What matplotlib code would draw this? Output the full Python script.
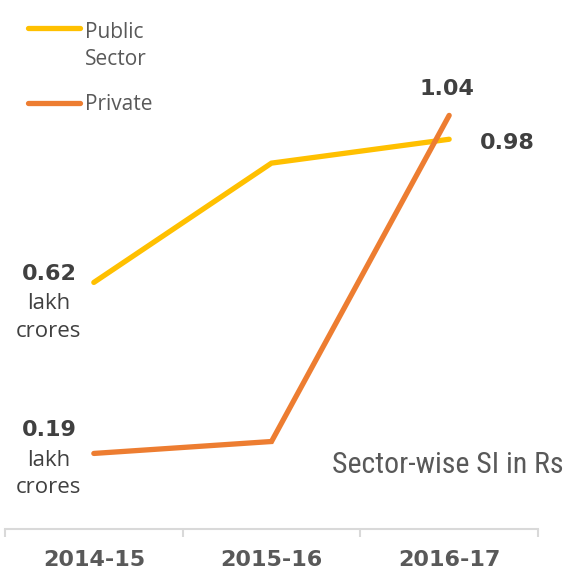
import matplotlib
matplotlib.use("Agg")
import matplotlib.pyplot as plt
from matplotlib import font_manager

# Data
years = ["2014-15", "2015-16", "2016-17"]
public_sector = [0.62, 0.92, 0.98]
private_sector = [0.19, 0.22, 1.04]
series_names = ["Public\nSector", "Private"]
title_text = "Sector-wise SI in Rs"
unit_text = "lakh\ncrores"

YELLOW = "#FFC000"
ORANGE = "#ED7D31"
DARK = "#404040"
GREY = "#595959"
AXIS = "#D9D9D9"

# prefer a narrow face for the caption if one is installed
names = {f.name for f in font_manager.fontManager.ttflist}
narrow = [n for n in ("Roboto Condensed", "Liberation Sans Narrow",
                      "DejaVu Sans Condensed", "Open Sans Condensed")
          if n in names]
caption_family = narrow[0] if narrow else "DejaVu Sans"

W, H = 570, 568
fig = plt.figure(figsize=(W / 100, H / 100), dpi=100)
ax = fig.add_axes([5 / W, (H - 529) / H, (538 - 5) / W, 529 / H])

x = list(range(len(years)))
ax.plot(x, public_sector, color=YELLOW, lw=3.8, solid_capstyle="round",
        solid_joinstyle="miter", zorder=3)
ax.plot(x, private_sector, color=ORANGE, lw=3.8, solid_capstyle="round",
        solid_joinstyle="miter", zorder=4)

ax.set_xlim(-0.5, 2.5)
ax.set_ylim(0, 529 / 397.7)

for side in ("top", "right", "left"):
    ax.spines[side].set_visible(False)
ax.spines["bottom"].set_color(AXIS)
ax.spines["bottom"].set_linewidth(1.5)
ax.set_yticks([])
ax.set_xticks([-0.5, 0.5, 1.5, 2.5], minor=False)
ax.set_xticklabels([])
ax.tick_params(axis="x", which="major", length=6, width=1.5, color=AXIS)
ax.set_xticks(x, minor=True)
ax.set_xticklabels(years, minor=True, fontsize=16, fontweight="bold",
                   color=GREY, fontfamily="DejaVu Sans")
ax.tick_params(axis="x", which="minor", length=0, pad=15)

num_font = dict(fontsize=16, fontweight="bold", color=DARK, fontfamily="DejaVu Sans")
unit_font = dict(fontsize=16, color=DARK, fontfamily="Open Sans")


def label(xi, yi, text, dx, dy, **kw):
    ax.annotate(text, xy=(xi, yi), xytext=(dx, dy), textcoords="offset pixels",
                ha="center", va="baseline", annotation_clip=False, **kw)


# value labels
label(x[0], public_sector[0], f"{public_sector[0]:.2f}", -45, 2, **num_font)
label(x[0], public_sector[0], unit_text, -45, -55, linespacing=1.45, **unit_font)
label(x[0], private_sector[0], f"{private_sector[0]:.2f}", -45, 17, **num_font)
label(x[0], private_sector[0], unit_text, -45, -40, linespacing=1.4, **unit_font)
label(x[2], private_sector[2], f"{private_sector[2]:.2f}", -2, 20, **num_font)
label(x[2], public_sector[2], f"{public_sector[2]:.2f}", 58, -10, **num_font)


# legend
def fx(px):
    return px / W


def fy(py):
    return 1 - py / H


for color, ly in ((YELLOW, 28), (ORANGE, 103)):
    fig.add_artist(plt.Line2D([fx(28), fx(80)], [fy(ly), fy(ly)], color=color,
                              lw=3.8, solid_capstyle="round",
                              transform=fig.transFigure))
fig.text(fx(85), fy(65), series_names[0], ha="left", va="baseline", fontsize=15,
         color=GREY, fontfamily="Open Sans", linespacing=1.35)
fig.text(fx(85), fy(110), series_names[1], ha="left", va="baseline",
         fontsize=15, color=GREY, fontfamily="Open Sans")

fig.text(fx(564), fy(473), title_text, ha="right", va="baseline", fontsize=21.5,
         color=GREY, fontfamily=caption_family)

fig.savefig("out.png", dpi=100, facecolor="white")
